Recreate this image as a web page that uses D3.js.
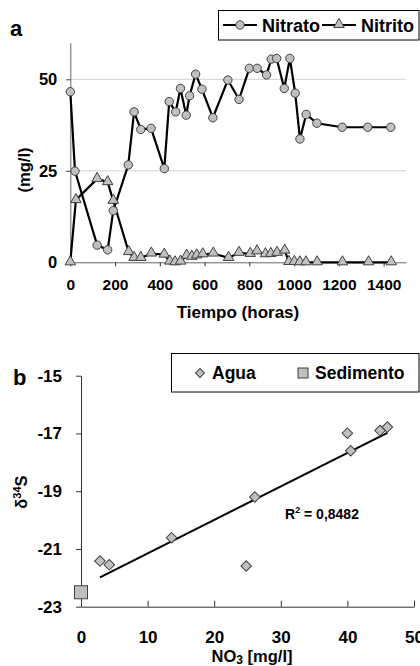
<!DOCTYPE html>
<html><head><meta charset="utf-8">
<script src="https://cdn.jsdelivr.net/npm/d3@7"></script>
<style>
html,body{margin:0;padding:0;background:#fff;}
svg{display:block;font-family:"Liberation Sans",Arial,sans-serif;font-weight:bold;}
</style></head>
<body>
<svg id="c" width="420" height="666"></svg>
<script>
// ---- Panel a data ----
const nitratoTime = [0,21,120,167,192,259,285,315,361,420,442,471,492,518,533,560,588,637,704,754,800,835,877,898,922,956,981,1005,1026,1054,1102,1215,1329,1432];
const nitratoVal  = [46.6,24.9,4.7,3.4,14.1,26.6,41.1,36.3,36.6,25.6,43.9,41.1,47.5,40.2,45.5,51.4,47.3,39.5,49.8,44.5,53.0,53.0,51.2,55.5,55.7,47.5,55.7,46.2,33.7,40.4,38.0,36.9,36.9,36.9];
const nitritoTime = [0,25,120,167,192,261,285,315,362,420,445,468,493,520,543,565,592,639,707,754,804,834,872,896,924,958,977,1001,1026,1053,1103,1216,1333,1434];
const nitritoVal  = [0,17.0,22.8,21.9,16.8,2.8,1.2,1.2,2.4,2.1,0.2,0,0.2,1.8,1.5,1.9,2.2,2.4,1.2,2.6,2.3,3.0,2.2,2.3,2.6,3.2,0.1,0.1,0,0,0,0,0,0];
const aXTicks = [0,200,400,600,800,1000,1200,1400];
const aYTicks = [0,25,50];
const aSeries = ["Nitrato","Nitrito"];

// ---- Panel b data ----
const aguaNO3 = [2.85,4.25,13.6,24.8,26.1,40.0,40.5,44.9,46.0];
const aguaS34 = [-21.42,-21.55,-20.61,-21.59,-19.2,-16.99,-17.6,-16.9,-16.78];
const sedNO3 = [0];
const sedS34 = [-22.5];
const bXTicks = [0,10,20,30,40,50];
const bYTicks = [-15,-17,-19,-21,-23];
const bSeries = ["Agua","Sedimento"];
const r2Label = "0,8482";

const svg = d3.select("#c");
const FILL = "#c0c0c0", MSTROKE = "#404040";
const FONT = "Liberation Sans, Arial, sans-serif";

// ================= Panel a =================
const xa = d3.scaleLinear().domain([0,1500]).range([70.3,406]);
const ya = d3.scaleLinear().domain([0,60]).range([262.3,42.7]);

const ga = svg.append("g");
ga.selectAll("line.grid").data([25,50]).enter().append("line")
  .attr("x1",xa(0)).attr("x2",xa(1500)).attr("y1",d=>ya(d)).attr("y2",d=>ya(d))
  .attr("stroke","#d0d0d0").attr("stroke-width",1);

const xAxisA = d3.axisBottom(xa).tickValues(aXTicks).tickFormat(d3.format("d")).tickSize(4).tickSizeOuter(0).tickPadding(13);
const gxA = ga.append("g").attr("transform",`translate(0,${ya(0)})`).call(xAxisA);
gxA.select(".domain").attr("stroke","#666");
gxA.selectAll(".tick line").attr("stroke","#333");
gxA.selectAll("text").attr("font-size",15.5).attr("fill","#000").attr("font-family",FONT).attr("font-weight","bold");

const yAxisA = d3.axisLeft(ya).tickValues(aYTicks).tickSize(4).tickSizeOuter(0).tickPadding(9);
const gyA = ga.append("g").attr("transform",`translate(${xa(0)},0)`).call(yAxisA);
gyA.select(".domain").attr("stroke","#666");
gyA.selectAll(".tick line").attr("stroke","#333");
gyA.selectAll("text").attr("font-size",16.5).attr("fill","#000").attr("font-family",FONT).attr("font-weight","bold");

const nitrato = nitratoTime.map((t,i)=>[t,nitratoVal[i]]);
const nitrito = nitritoTime.map((t,i)=>[t,nitritoVal[i]]);
const lineA = d3.line().x(d=>xa(d[0])).y(d=>ya(d[1]));
ga.append("path").datum(nitrito).attr("d",lineA).attr("fill","none").attr("stroke","#000").attr("stroke-width",2.2);
ga.append("path").datum(nitrato).attr("d",lineA).attr("fill","none").attr("stroke","#000").attr("stroke-width",2.2);

const triSym = d3.symbol().type(d3.symbolTriangle).size(48);
ga.selectAll("path.tri").data(nitrito).enter().append("path")
  .attr("d",triSym).attr("transform",d=>`translate(${xa(d[0])},${ya(d[1])-0.5})`)
  .attr("fill",FILL).attr("stroke",MSTROKE).attr("stroke-width",1);
ga.selectAll("circle.nit").data(nitrato).enter().append("circle")
  .attr("cx",d=>xa(d[0])).attr("cy",d=>ya(d[1])).attr("r",4.2)
  .attr("fill",FILL).attr("stroke",MSTROKE).attr("stroke-width",1);

svg.append("text").attr("x",10).attr("y",36).attr("font-size",22).text("a");
svg.append("text").attr("transform",`translate(30,170) rotate(-90)`).attr("text-anchor","middle")
  .attr("font-size",16.5).text("(mg/l)");
svg.append("text").attr("x",238).attr("y",318).attr("text-anchor","middle")
  .attr("font-size",17).text("Tiempo (horas)");

// legend a
const lgA = svg.append("g");
lgA.append("rect").attr("x",218.5).attr("y",10.5).attr("width",200.5).attr("height",29.5)
  .attr("fill","#fff").attr("stroke","#000").attr("stroke-width",1);
const legAx = [223,322];
aSeries.forEach((s,i)=>{
  const x0 = legAx[i];
  lgA.append("line").attr("x1",x0).attr("x2",x0+34).attr("y1",25).attr("y2",25).attr("stroke","#000").attr("stroke-width",2.2);
  if(i===0) lgA.append("circle").attr("cx",x0+17).attr("cy",25).attr("r",4.2).attr("fill",FILL).attr("stroke",MSTROKE);
  else lgA.append("path").attr("d",triSym).attr("transform",`translate(${x0+17},24.5)`).attr("fill",FILL).attr("stroke",MSTROKE);
  lgA.append("text").attr("x",x0+39).attr("y",31.5).attr("font-size",18).text(s);
});

// ================= Panel b =================
const xb = d3.scaleLinear().domain([0,50]).range([81,414]);
const yb = d3.scaleLinear().domain([-23,-15]).range([606.7,375.7]);
const gb = svg.append("g");

const xAxisB = d3.axisBottom(xb).tickValues(bXTicks).tickSize(0).tickSizeOuter(0).tickPadding(24);
const gxB = gb.append("g").attr("transform",`translate(0,${yb(-23)})`).call(xAxisB);
gxB.select(".domain").attr("stroke","#333");
gxB.selectAll(".tick").append("line").attr("y1",0).attr("y2",-6).attr("stroke","#333");
gxB.selectAll("text").attr("font-size",17).attr("fill","#000").attr("font-family",FONT).attr("font-weight","bold");

const yAxisB = d3.axisLeft(yb).tickValues(bYTicks).tickFormat(d=>String(d)).tickSize(5).tickSizeOuter(0).tickPadding(14);
const gyB = gb.append("g").attr("transform",`translate(${xb(0)},0)`).call(yAxisB);
gyB.select(".domain").attr("stroke","#333");
gyB.selectAll(".tick line").attr("stroke","#333");
gyB.selectAll("text").attr("font-size",17).attr("fill","#000").attr("font-family",FONT).attr("font-weight","bold");

// regression (least squares through Agua points)
const n = aguaNO3.length;
const mx = d3.mean(aguaNO3), my = d3.mean(aguaS34);
let sxy=0,sxx=0;
for(let i=0;i<n;i++){sxy+=(aguaNO3[i]-mx)*(aguaS34[i]-my);sxx+=(aguaNO3[i]-mx)**2;}
const slope=sxy/sxx, icpt=my-slope*mx;
const xr=d3.extent(aguaNO3);
gb.append("line").attr("x1",xb(xr[0])).attr("x2",xb(xr[1]))
  .attr("y1",yb(icpt+slope*xr[0])).attr("y2",yb(icpt+slope*xr[1]))
  .attr("stroke","#000").attr("stroke-width",2);

const dia = d3.symbol().type(d3.symbolSquare).size(56);
gb.selectAll("path.ag").data(aguaNO3.map((x,i)=>[x,aguaS34[i]])).enter().append("path")
  .attr("d",dia).attr("transform",d=>`translate(${xb(d[0])},${yb(d[1])}) rotate(45)`)
  .attr("fill",FILL).attr("stroke",MSTROKE).attr("stroke-width",1);
gb.selectAll("rect.sed").data(sedNO3.map((x,i)=>[x,sedS34[i]])).enter().append("rect")
  .attr("x",d=>xb(d[0])-6.5).attr("y",d=>yb(d[1])-6.5).attr("width",13).attr("height",13)
  .attr("fill",FILL).attr("stroke",MSTROKE).attr("stroke-width",1);

const r2 = svg.append("text").attr("x",285).attr("y",519).attr("font-size",14);
r2.append("tspan").text("R");
r2.append("tspan").attr("font-size",9).attr("dy",-6).text("2");
r2.append("tspan").attr("dy",6).text(" = " + r2Label);

svg.append("text").attr("x",13).attr("y",385).attr("font-size",22).text("b");
const yl = svg.append("text").attr("transform",`translate(27,492) rotate(-90)`).attr("text-anchor","middle").attr("font-size",16.5);
yl.append("tspan").text("δ");
yl.append("tspan").attr("font-size",11).attr("dy",-6).text("34");
yl.append("tspan").attr("dy",6).text("S");
const xl = svg.append("text").attr("x",252).attr("y",662).attr("text-anchor","middle").attr("font-size",16.5);
xl.append("tspan").text("NO");
xl.append("tspan").attr("font-size",12).attr("dy",2).text("3");
xl.append("tspan").attr("dy",-2).text(" [mg/l]");

// legend b
const lgB = svg.append("g");
lgB.append("rect").attr("x",171.5).attr("y",353.5).attr("width",247.5).attr("height",38.5)
  .attr("fill","#fff").attr("stroke","#000").attr("stroke-width",1);
lgB.append("path").attr("d",d3.symbol().type(d3.symbolSquare).size(40)).attr("transform","translate(200,373) rotate(45)")
  .attr("fill",FILL).attr("stroke",MSTROKE);
lgB.append("text").attr("x",212).attr("y",379).attr("font-size",17.5).text(bSeries[0]);
lgB.append("rect").attr("x",298).attr("y",368).attr("width",10).attr("height",10).attr("fill",FILL).attr("stroke",MSTROKE);
lgB.append("text").attr("x",315).attr("y",379).attr("font-size",17.5).text(bSeries[1]);
</script>
</body></html>
